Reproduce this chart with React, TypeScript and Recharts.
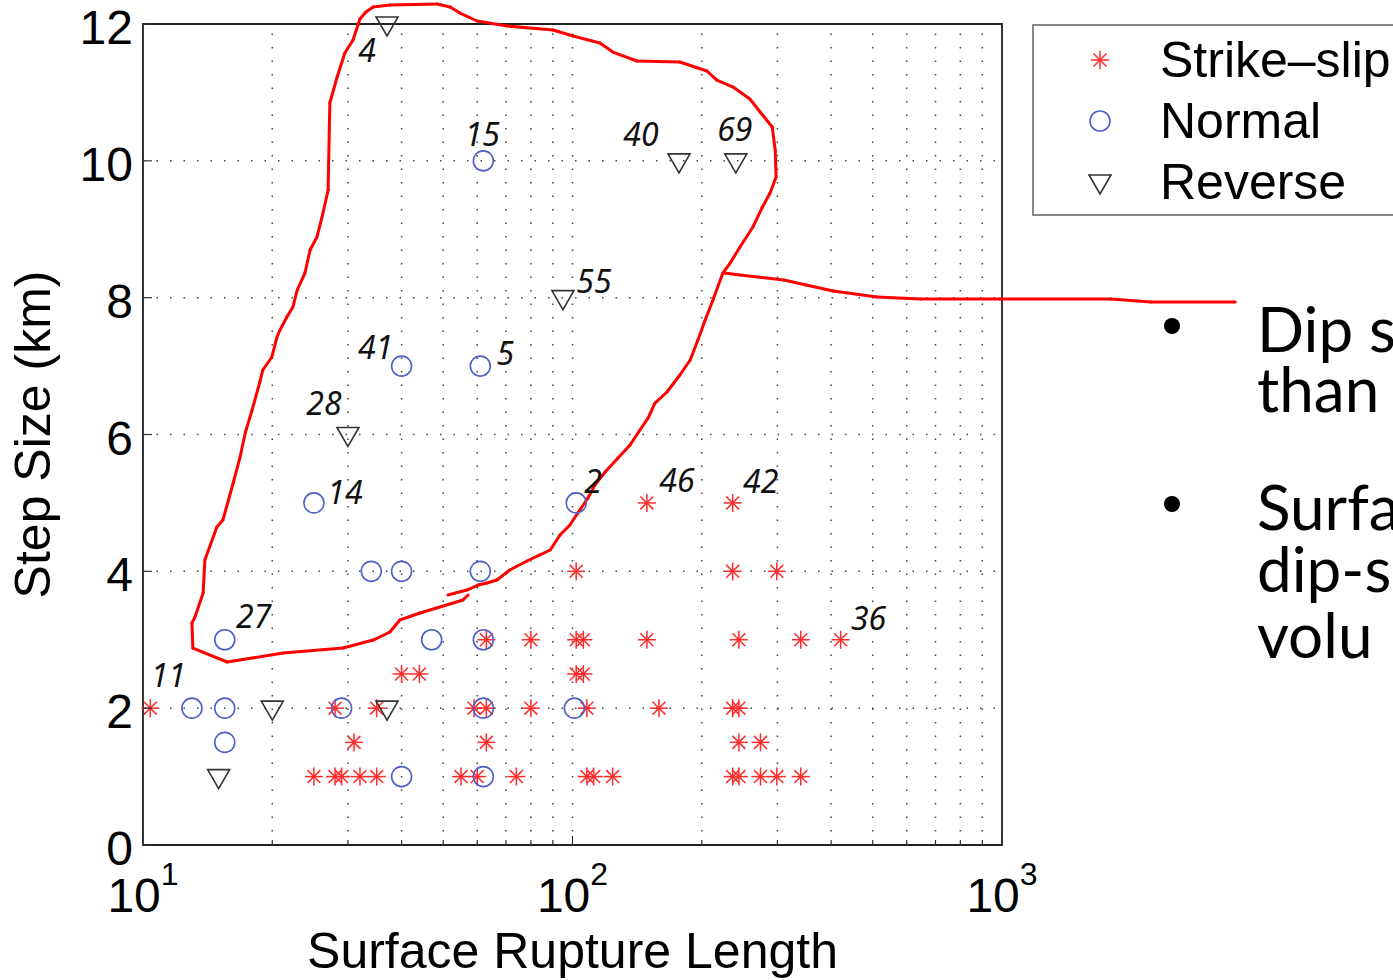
import React from 'react';
import { ScatterChart, Scatter, XAxis, YAxis, ReferenceLine, ReferenceArea } from 'recharts';

const W = 1393;
const H = 980;
// axes below are 1px thick, so the plot box ends up at x 143..1002, y 24..845
const MARGIN = { top: 23, right: 390, bottom: 134, left: 142 };

// rupture length (km) vs step size (km); id = event number printed next to the marker
const strikeSlip = [
  { length: 149, step: 5, id: '46' },
  { length: 236, step: 5, id: '42' },
  { length: 102, step: 4 },
  { length: 236, step: 4 },
  { length: 299, step: 4 },
  { length: 63, step: 3 },
  { length: 80, step: 3 },
  { length: 102, step: 3 },
  { length: 106, step: 3 },
  { length: 149, step: 3 },
  { length: 244, step: 3 },
  { length: 340, step: 3 },
  { length: 421, step: 3, id: '36' },
  { length: 40, step: 2.5 },
  { length: 44, step: 2.5 },
  { length: 102, step: 2.5 },
  { length: 106, step: 2.5 },
  { length: 10.4, step: 2, id: '11' },
  { length: 28, step: 2 },
  { length: 35, step: 2 },
  { length: 59, step: 2 },
  { length: 63, step: 2 },
  { length: 80, step: 2 },
  { length: 108, step: 2 },
  { length: 159, step: 2 },
  { length: 236, step: 2 },
  { length: 244, step: 2 },
  { length: 31, step: 1.5 },
  { length: 63, step: 1.5 },
  { length: 244, step: 1.5 },
  { length: 274, step: 1.5 },
  { length: 25, step: 1 },
  { length: 28, step: 1 },
  { length: 29, step: 1 },
  { length: 32, step: 1 },
  { length: 35, step: 1 },
  { length: 55, step: 1 },
  { length: 60, step: 1 },
  { length: 74, step: 1 },
  { length: 108, step: 1 },
  { length: 112, step: 1 },
  { length: 124, step: 1 },
  { length: 236, step: 1 },
  { length: 244, step: 1 },
  { length: 274, step: 1 },
  { length: 299, step: 1 },
  { length: 340, step: 1 },
];

const normal = [
  { length: 62, step: 10, id: '15' },
  { length: 40, step: 7, id: '41' },
  { length: 61, step: 7, id: '5' },
  { length: 25, step: 5, id: '14' },
  { length: 102, step: 5, id: '2' },
  { length: 34, step: 4 },
  { length: 40, step: 4 },
  { length: 61, step: 4 },
  { length: 15.5, step: 3, id: '27' },
  { length: 47, step: 3 },
  { length: 62, step: 3 },
  { length: 13, step: 2 },
  { length: 15.5, step: 2 },
  { length: 29, step: 2 },
  { length: 62, step: 2 },
  { length: 101, step: 2 },
  { length: 15.5, step: 1.5 },
  { length: 40, step: 1 },
  { length: 62, step: 1 },
];

const reverse = [
  { length: 37, step: 12, id: '4' },
  { length: 177, step: 10, id: '40' },
  { length: 240, step: 10, id: '69' },
  { length: 95, step: 8, id: '55' },
  { length: 30, step: 6, id: '28' },
  { length: 20, step: 2 },
  { length: 37, step: 2 },
  { length: 15, step: 1 },
];

const xTicks = [10, 20, 30, 40, 50, 60, 70, 80, 90, 100, 200, 300, 400, 500, 600, 700, 800, 900, 1000];
const xMajor = [10, 100, 1000];
const xGrid = [20, 30, 40, 50, 60, 70, 80, 90, 100, 200, 300, 400, 500, 600, 700, 800, 900];
const yTicks = [0, 2, 4, 6, 8, 10, 12];
const yGrid = [2, 4, 6, 8, 10];

// pen outline drawn over the plot, as [log10 length, step]
const sketchLoop: [number, number][] = [
  [1.71, 3.654], [1.754, 3.727], [1.78, 3.8], [1.801, 3.829], [1.824, 3.873], [1.854, 4.019],
  [1.894, 4.151], [1.924, 4.239], [1.948, 4.312], [1.971, 4.531], [1.994, 4.677], [2.017, 4.896],
  [2.036, 5.072], [2.052, 5.262], [2.076, 5.452], [2.106, 5.656], [2.134, 5.846], [2.157, 6.066],
  [2.176, 6.241], [2.192, 6.46], [2.22, 6.621], [2.25, 6.87], [2.274, 7.089], [2.292, 7.381],
  [2.309, 7.673], [2.327, 7.966], [2.35, 8.36], [2.367, 8.506], [2.39, 8.74], [2.42, 9.033],
  [2.441, 9.31], [2.46, 9.53], [2.474, 9.763], [2.472, 10.158], [2.465, 10.494], [2.437, 10.714],
  [2.413, 10.904], [2.374, 11.079], [2.336, 11.181], [2.313, 11.313], [2.25, 11.444], [2.15, 11.459],
  [2.094, 11.59], [2.064, 11.722], [2.001, 11.824], [1.955, 11.912], [1.848, 11.97], [1.778, 12.044],
  [1.738, 12.16], [1.715, 12.248], [1.685, 12.292], [1.575, 12.277], [1.536, 12.248], [1.519, 12.175],
  [1.505, 12.073], [1.489, 11.766], [1.47, 11.576], [1.452, 11.225], [1.435, 10.845], [1.431, 9.573],
  [1.419, 9.237], [1.405, 8.886], [1.389, 8.697], [1.377, 8.36], [1.359, 8.112], [1.349, 7.863],
  [1.335, 7.717], [1.319, 7.527], [1.312, 7.425], [1.3, 7.133], [1.279, 6.943], [1.272, 6.767],
  [1.254, 6.358], [1.238, 6.022], [1.226, 5.671], [1.21, 5.291], [1.186, 4.75], [1.172, 4.648],
  [1.144, 4.166], [1.14, 3.683], [1.121, 3.332], [1.114, 3.245], [1.116, 2.879], [1.196, 2.675],
  [1.326, 2.806], [1.466, 2.879], [1.536, 2.996], [1.575, 3.113], [1.598, 3.289], [1.645, 3.391],
  [1.745, 3.581], [1.757, 3.654],
];

const sketchTail: [number, number][] = [
  [2.353, 8.36], [2.39, 8.331], [2.492, 8.258], [2.544, 8.185], [2.607, 8.097], [2.709, 8.01],
  [2.811, 7.98], [2.995, 7.98], [3.254, 7.98], [3.347, 7.936], [3.543, 7.936],
];

const labelOffset: Record<string, [number, number]> = {
  '4': [-20, 26], '15': [-1, -26], '40': [-38, -26], '69': [-1, -31], '55': [31, -16],
  '41': [-26, -19], '5': [25, -13], '28': [-24, -31], '14': [31, -10], '2': [17, -21],
  '46': [30, -22], '42': [28, -21], '36': [28, -21], '27': [29, -23], '11': [18, -33],
};

const AXIS_FONT = '"Liberation Sans", Arial, sans-serif';
const RED = '#ff2a2a';
const BLUE = '#4f5fc6';
const DARK = '#333';

const toSegments = (pts: [number, number][]) =>
  pts.slice(1).map((p, i) => [
    { x: 10 ** pts[i][0], y: pts[i][1] },
    { x: 10 ** p[0], y: p[1] },
  ]);

const Asterisk = ({ cx, cy, r = 9 }: { cx: number; cy: number; r?: number }) => {
  const d = r * 0.72;
  return (
    <g stroke={RED} strokeWidth={1.5}>
      <line x1={cx - r} y1={cy} x2={cx + r} y2={cy} />
      <line x1={cx} y1={cy - r} x2={cx} y2={cy + r} />
      <line x1={cx - d} y1={cy - d} x2={cx + d} y2={cy + d} />
      <line x1={cx - d} y1={cy + d} x2={cx + d} y2={cy - d} />
    </g>
  );
};

const Ring = ({ cx, cy, r = 10 }: { cx: number; cy: number; r?: number }) => (
  <circle cx={cx} cy={cy} r={r} fill="none" stroke={BLUE} strokeWidth={1.6} />
);

const DownTriangle = ({ cx, cy, s = 1 }: { cx: number; cy: number; s?: number }) => (
  <path
    d={`M${cx - 11 * s},${cy - 7 * s} L${cx + 11 * s},${cy - 7 * s} L${cx},${cy + 12 * s} Z`}
    fill="none"
    stroke={DARK}
    strokeWidth={1.6}
  />
);

const EventLabel = ({ cx, cy, id }: { cx: number; cy: number; id?: string }) => {
  if (!id) return null;
  const [dx, dy] = labelOffset[id] || [20, -20];
  return (
    <text
      x={cx + dx}
      y={cy + dy}
      dy="0.36em"
      textAnchor="middle"
      fontFamily='"Noto Sans", sans-serif'
      fontStyle="italic"
      fontSize={32}
      fill="#111"
    >
      {id}
    </text>
  );
};

const markerShape = (Marker: React.FC<{ cx: number; cy: number }>) => (p: any) => (
  <g>
    <Marker cx={p.cx} cy={p.cy} />
    <EventLabel cx={p.cx} cy={p.cy} id={p.payload?.id} />
  </g>
);

const BottomTick = (props: any) => {
  const { x, y, payload } = props;
  const v = payload.value;
  const major = xMajor.includes(v);
  return (
    <g>
      <line x1={x} x2={x} y1={y} y2={y - (major ? 9 : 5)} stroke={DARK} strokeWidth={1.2} />
      {major && (
        <text x={x} y={y + 67} textAnchor="middle" fontFamily={AXIS_FONT} fontSize={48} fill="#000">
          10
          <tspan dy={-27} fontSize={32}>
            {Math.round(Math.log10(v))}
          </tspan>
        </text>
      )}
    </g>
  );
};

const TopTick = (props: any) => {
  const { x, y, payload } = props;
  const major = xMajor.includes(payload.value);
  return <line x1={x} x2={x} y1={y} y2={y + (major ? 9 : 5)} stroke={DARK} strokeWidth={1.2} />;
};

const LeftTick = (props: any) => {
  const { x, y, payload } = props;
  return (
    <g>
      <line x1={x} x2={x + 9} y1={y} y2={y} stroke={DARK} strokeWidth={1.2} />
      <text x={x - 10} y={y + 20} textAnchor="end" fontFamily={AXIS_FONT} fontSize={48} fill="#000">
        {payload.value}
      </text>
    </g>
  );
};

const RightTick = (props: any) => {
  const { x, y } = props;
  return <line x1={x} x2={x - 9} y1={y} y2={y} stroke={DARK} strokeWidth={1.2} />;
};

const legendRows = [
  { name: 'Strike–slip', Marker: Asterisk },
  { name: 'Normal', Marker: Ring },
  { name: 'Reverse', Marker: DownTriangle },
];

const slideLines = [
  { text: 'Dip s', baseline: 352, bullet: true },
  { text: 'than', baseline: 412, bullet: false },
  { text: 'Surfa', baseline: 530, bullet: true },
  { text: 'dip-s', baseline: 592, bullet: false },
  { text: 'volu', baseline: 658, bullet: false },
];

const axisCommon = {
  type: 'number' as const,
  interval: 0 as const,
  tickSize: 0,
  tickMargin: 0,
  axisLine: false,
  tickLine: false,
};

export default function App() {
  return (
    <div style={{ position: 'absolute', left: 0, top: 0, width: W, height: H, overflow: 'hidden', background: '#fff' }}>
      <ScatterChart width={W} height={H} margin={MARGIN}>
        <XAxis {...axisCommon} dataKey="length" scale="log" domain={[10, 1000]} ticks={xTicks} height={1} tick={BottomTick} />
        <XAxis
          {...axisCommon}
          xAxisId="top"
          orientation="top"
          dataKey="length"
          scale="log"
          domain={[10, 1000]}
          ticks={xTicks}
          height={1}
          tick={TopTick}
        />
        <YAxis {...axisCommon} dataKey="step" domain={[0, 12]} ticks={yTicks} width={1} tick={LeftTick} />
        <YAxis
          {...axisCommon}
          yAxisId="right"
          orientation="right"
          dataKey="step"
          domain={[0, 12]}
          ticks={yTicks}
          width={1}
          tick={RightTick}
        />

        {xGrid.map((v) => (
          <ReferenceLine key={`gx${v}`} x={v} stroke="#444" strokeWidth={1.5} strokeDasharray="1.5 12" />
        ))}
        {yGrid.map((v) => (
          <ReferenceLine key={`gy${v}`} y={v} stroke="#444" strokeWidth={1.5} strokeDasharray="1.5 12" />
        ))}
        <ReferenceArea x1={10} x2={1000} y1={0} y2={12} fill="none" stroke="#222" strokeWidth={1.8} />

        <Scatter data={strikeSlip} isAnimationActive={false} shape={markerShape(Asterisk)} />
        <Scatter data={normal} isAnimationActive={false} shape={markerShape(Ring)} />
        <Scatter data={reverse} isAnimationActive={false} shape={markerShape(DownTriangle)} />

        {[...toSegments(sketchLoop), ...toSegments(sketchTail)].map((seg, i) => (
          <ReferenceLine
            key={`sk${i}`}
            segment={seg}
            ifOverflow="visible"
            stroke="#f00"
            strokeWidth={3}
            strokeLinecap="round"
          />
        ))}
      </ScatterChart>

      <svg width={W} height={H} style={{ position: 'absolute', left: 0, top: 0, pointerEvents: 'none' }}>
        <text
          transform="translate(50 434.5) rotate(-90)"
          textAnchor="middle"
          fontFamily={AXIS_FONT}
          fontSize={50}
          fill="#000"
        >
          Step Size (km)
        </text>
        <text x={572.5} y={968} textAnchor="middle" fontFamily={AXIS_FONT} fontSize={50} fill="#000">
          Surface Rupture Length
        </text>

        <rect x={1033} y={25} width={420} height={190} fill="#fff" stroke="#555" strokeWidth={1.4} />
        {legendRows.map(({ name, Marker }, i) => {
          const cy = 60 + i * 61;
          return (
            <g key={name}>
              <Marker cx={1100} cy={cy} />
              <text x={1160} y={cy + 17} fontFamily={AXIS_FONT} fontSize={50} fill="#000">
                {name}
              </text>
            </g>
          );
        })}

        {slideLines.map((l) => (
          <g key={l.text}>
            {l.bullet && <circle cx={1172} cy={l.baseline - 26} r={8} fill="#000" />}
            <text x={1257} y={l.baseline} fontFamily='Lato, "Open Sans", sans-serif' fontSize={62} fill="#000">
              {l.text}
            </text>
          </g>
        ))}
      </svg>
    </div>
  );
}
